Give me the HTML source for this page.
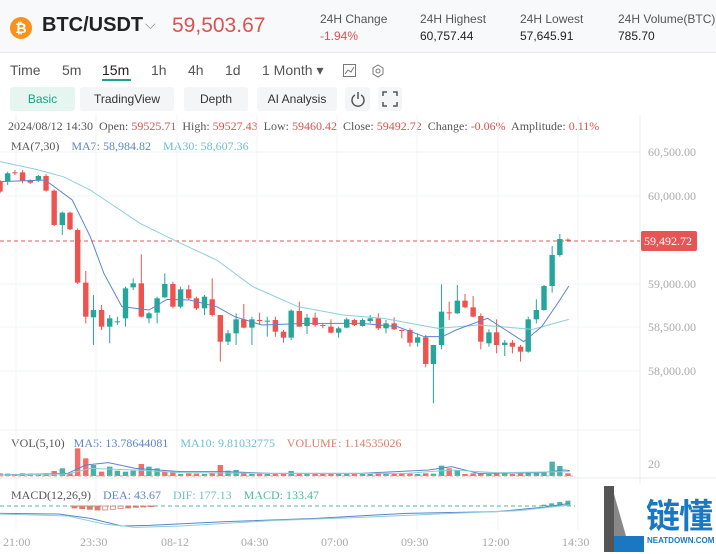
<!DOCTYPE html>
<html><head><meta charset="utf-8">
<style>
body{margin:0;width:716px;height:554px;overflow:hidden;background:#fff;font-family:"Liberation Sans",sans-serif;position:relative}
.a{position:absolute;white-space:nowrap}
.hdr{position:absolute;left:0;top:0;width:716px;height:52px;background:#f8f9fa;border-bottom:1px solid #e6e8eb}
.lbl{font-size:12px;color:#555}
.val{font-size:12px;color:#222}
.btn{position:absolute;top:87px;height:24px;line-height:24px;background:#f4f5f7;border-radius:3px;font-size:12px;color:#333;text-align:center}
.s{font-family:"Liberation Serif",serif;font-size:12px}
</style></head><body>
<div class="hdr"></div>
<svg class="a" style="left:10px;top:17px" width="22" height="22"><circle cx="11" cy="11" r="11" fill="#f7931a"/><text x="11" y="16" font-size="14" font-weight="bold" fill="#fff" text-anchor="middle" font-family="Liberation Sans">₿</text></svg>
<div class="a" style="left:42px;top:14px;font-size:20px;font-weight:bold;color:#222">BTC/USDT</div>
<div class="a" style="left:145px;top:16px;font-size:14px;color:#888">⌵</div>
<div class="a" style="left:172px;top:14px;font-size:21px;color:#d9534f">59,503.67</div>
<div class="a lbl" style="left:320px;top:12px">24H Change</div><div class="a" style="left:320px;top:29px;font-size:12px;color:#d9534f">-1.94%</div>
<div class="a lbl" style="left:420px;top:12px">24H Highest</div><div class="a val" style="left:420px;top:29px">60,757.44</div>
<div class="a lbl" style="left:520px;top:12px">24H Lowest</div><div class="a val" style="left:520px;top:29px">57,645.91</div>
<div class="a lbl" style="left:618px;top:12px">24H Volume(BTC)</div><div class="a val" style="left:618px;top:29px">785.70</div>
<div class="a" style="left:10px;top:62px;font-size:14px;color:#555">Time</div>
<div class="a" style="left:62px;top:62px;font-size:14px;color:#555">5m</div>
<div class="a" style="left:102px;top:62px;font-size:14px;color:#222">15m</div>
<div class="a" style="left:102px;top:79px;width:29px;height:2px;background:#1aa08a"></div>
<div class="a" style="left:151px;top:62px;font-size:14px;color:#555">1h</div>
<div class="a" style="left:188px;top:62px;font-size:14px;color:#555">4h</div>
<div class="a" style="left:225px;top:62px;font-size:14px;color:#555">1d</div>
<div class="a" style="left:262px;top:62px;font-size:14px;color:#555">1 Month ▾</div>
<svg class="a" style="left:343px;top:64px" width="44" height="14"><rect x="0.5" y="0.5" width="12" height="12" fill="none" stroke="#777"/><polyline points="2,10 5,6 8,8 11,3" fill="none" stroke="#777"/><polygon points="35,1 40,4 40,10 35,13 30,10 30,4" fill="none" stroke="#777"/><circle cx="35" cy="7" r="2" fill="none" stroke="#777"/></svg>
<div class="btn" style="left:10px;width:65px;background:#e5f6f1;color:#1a9f86">Basic</div>
<div class="btn" style="left:80px;width:94px">TradingView</div>
<div class="btn" style="left:184px;width:64px">Depth</div>
<div class="btn" style="left:257px;width:80px">AI Analysis</div>
<div class="btn" style="left:345px;width:25px"><svg width="16" height="16" style="margin-top:4px"><path d="M5 4 A6 6 0 1 0 11 4" fill="none" stroke="#555" stroke-width="1.5"/><line x1="8" y1="1" x2="8" y2="8" stroke="#555" stroke-width="1.5"/></svg></div>
<div class="btn" style="left:378px;width:24px"><svg width="16" height="16" style="margin-top:4px" fill="none" stroke="#555" stroke-width="1.5"><path d="M1 5V1H5M11 1H15V5M15 11V15H11M5 15H1V11"/></svg></div>
<div class="a s" style="left:8px;top:119px;color:#555">2024/08/12 14:30&nbsp; Open: <span style="color:#d9534f">59525.71</span>&nbsp; High: <span style="color:#d9534f">59527.43</span>&nbsp; Low: <span style="color:#d9534f">59460.42</span>&nbsp; Close: <span style="color:#d9534f">59492.72</span>&nbsp; Change: <span style="color:#d9534f">-0.06%</span>&nbsp; Amplitude: <span style="color:#d9534f">0.11%</span></div>
<div class="a s" style="left:11px;top:139px;color:#555">MA(7,30)&nbsp;&nbsp;&nbsp; <span style="color:#5b86c9">MA7: 58,984.82</span>&nbsp;&nbsp;&nbsp; <span style="color:#6cc0cc">MA30: 58,607.36</span></div>
<div class="a s" style="left:11px;top:436px;color:#555">VOL(5,10)&nbsp;&nbsp; <span style="color:#5b86c9">MA5: 13.78644081</span>&nbsp;&nbsp;&nbsp; <span style="color:#6cc0cc">MA10: 9.81032775</span>&nbsp;&nbsp;&nbsp; <span style="color:#e07a6a">VOLUME: 1.14535026</span></div>
<div class="a s" style="left:11px;top:488px;color:#555">MACD(12,26,9)&nbsp;&nbsp;&nbsp; <span style="color:#5b86c9">DEA: 43.67</span>&nbsp;&nbsp;&nbsp; <span style="color:#6cc0cc">DIF: 177.13</span>&nbsp;&nbsp;&nbsp; <span style="color:#4db8a0">MACD: 133.47</span></div>
<svg class="a" id="ch" style="left:0;top:0" width="716" height="554"></svg>
<div class="a s" style="left:648px;top:145px;color:#aaa">60,500.00</div>
<div class="a s" style="left:648px;top:189px;color:#aaa">60,000.00</div>
<div class="a s" style="left:648px;top:277px;color:#aaa">59,000.00</div>
<div class="a s" style="left:648px;top:320px;color:#aaa">58,500.00</div>
<div class="a s" style="left:648px;top:364px;color:#aaa">58,000.00</div>
<div class="a s" style="left:648px;top:457px;color:#aaa">20</div>
<div class="a" style="left:641px;top:231px;width:56px;height:20px;background:#e85454;border-radius:2px"></div>
<div class="a s" style="left:644px;top:234px;color:#fff">59,492.72</div>
<div class="a s" style="left:3px;top:535px;color:#aaa">21:00</div>
<div class="a s" style="left:80px;top:535px;color:#aaa">23:30</div>
<div class="a s" style="left:161px;top:535px;color:#aaa">08-12</div>
<div class="a s" style="left:241px;top:535px;color:#aaa">04:30</div>
<div class="a s" style="left:321px;top:535px;color:#aaa">07:00</div>
<div class="a s" style="left:401px;top:535px;color:#aaa">09:30</div>
<div class="a s" style="left:482px;top:535px;color:#aaa">12:00</div>
<div class="a s" style="left:562px;top:535px;color:#aaa">14:30</div>
<div class="a" style="left:600px;top:484px;width:116px;height:70px;background:#fff"></div>
<svg class="a" style="left:604px;top:486px" width="40" height="66"><polygon points="0,0 10,0 10,50 40,50 40,66 0,66" fill="#1a78c2"/><polygon points="10,8 22,50 10,50" fill="#888"/><polygon points="0,0 10,0 10,66 0,66" fill="#555"/></svg>
<div class="a" style="left:646px;top:489px;font-size:34px;font-weight:bold;color:#1a78c2;font-family:'Liberation Sans','Noto Sans CJK SC',sans-serif;letter-spacing:-1px">链懂</div>
<div class="a" style="left:647px;top:536px;font-size:8px;font-weight:bold;color:#1a78c2">NEATDOWN.COM</div>
<script>
var s=document.getElementById('ch'),h='',K=2.215;
function L(x1,y1,x2,y2,c,d,w){h+='<line x1="'+x1+'" y1="'+y1+'" x2="'+x2+'" y2="'+y2+'" stroke="'+c+'" stroke-width="'+(w||1)+'"'+(d?' stroke-dasharray="'+d+'"':'')+'/>';}
[16,96,177,257,337,417,498,578].forEach(function(x){L(x,115,x,530,'#f2f3f5');});
[152,196,284,327,371].forEach(function(y){L(0,y,640,y,'#f2f3f5');});
L(640,115,640,530,'#eceef0');L(0,478,716,478,'#e6e8eb');L(0,430,640,430,'#f0f0f0');
L(0,241,640,241,'#e85454','4,3');
var G='#26a69a',R='#ef5350';
var c=[[0,65,95,60,100],[17,65,40,35,75],[33,37,37,30,45],[50,37,62,30,70],[67,62,68,58,72],[85,62,48,45,66],[102,48,92,42,95],[120,92,195,88,198],[138,195,158,155,225],[155,158,208,155,210],[172,210,368,205,372],[190,368,470,333,490],[207,472,450,405,555],[225,450,500,435,510],[243,500,475,465,550],[260,486,484,470,495],[278,475,385,380,500],[295,382,370,355,390],[313,370,470,283,472],[330,475,460,455,490],[348,458,415,410,490],[365,412,372,340,415],[383,372,440,365,445],[400,440,388,380,445],[418,388,415,375,420],[435,415,445,410,450],[453,445,410,405,465],[470,418,465,355,470],[488,465,545,465,605],[505,545,520,510,555],[523,520,478,460,555],[540,478,503,432,505],[558,503,478,470,555],[575,480,482,458,495],[592,484,482,470,530],[610,480,515,470,530],[628,515,533,510,548],[645,533,452,448,540],[663,453,500,425,500],[680,498,473,462,522],[698,473,495,458,500],[715,495,497,490,505],[733,500,518,478,520],[750,518,505,500,533],[768,503,478,473,505],[785,480,495,476,498],[803,498,480,475,500],[820,483,475,465,490],[838,475,505,460,510],[855,505,490,480,520],[873,490,508,472,510],[890,510,512,508,535],[908,510,548,505,560],[925,548,532,520,560],[943,532,612,525,622],[960,612,555,555,730],[978,555,455,373,568],[995,457,459,425,480],[1013,460,422,375,462],[1030,422,442,402,445],[1048,442,470,408,472],[1065,468,545,460,568],[1083,550,517,508,560],[1100,517,555,478,580],[1118,555,548,540,588],[1135,548,560,540,580],[1153,560,575,555,605],[1170,575,478,470,578],[1188,478,450,418,490],[1205,450,378,375,452],[1223,378,285,258,398],[1240,285,237,222,290],[1258,239,241,235,245]];
function Y(v){return 160+v/3;}
c.forEach(function(k){var x=k[0]/K,o=Y(k[1]),cl=Y(k[2]),col=cl<=o?G:R;if(k[1]==k[2])col=R;
L(x,Y(k[3]),x,Y(k[4]),col);var t=Math.min(o,cl),bh=Math.max(Math.abs(o-cl),1);
h+='<rect x="'+(x-2.7)+'" y="'+t+'" width="5.4" height="'+bh+'" fill="'+col+'"/>';});
function P(a,col,f){h+='<polyline fill="none" stroke="'+col+'" stroke-width="1" points="'+a.map(function(p){return (p[0]/K)+','+f(p[1]);}).join(' ')+'"/>';}
P([[0,5],[80,28],[140,50],[200,90],[310,190],[400,250],[480,300],[560,380],[660,440],[760,465],[850,475],[970,505],[1060,495],[1180,508],[1260,478]],'#8ccfd9',Y);
P([[0,65],[100,60],[160,120],[200,230],[230,340],[270,440],[330,450],[370,418],[420,420],[480,440],[520,470],[580,495],[680,490],[800,490],[880,500],[940,530],[980,530],[1010,510],[1080,475],[1120,510],[1160,545],[1200,500],[1240,420],[1260,378]],'#5b86c9',Y);
function V(v){return 420+v/3;}
var vb={85:[163,G],120:[153,R],138:[145,G],172:[85,R],190:[115,R],207:[135,G],225:[155,R],243:[140,G],260:[152,G],278:[155,G],295:[152,G],313:[132,R],330:[140,G],348:[145,G],365:[155,R],383:[155,R],488:[135,R],505:[152,G],523:[150,G],540:[158,R],645:[153,G],958:[123,G],978:[137,G],995:[145,R],1013:[150,G],1223:[125,G],1240:[138,G],1205:[157,G],1188:[157,G],1170:[157,G]};
c.forEach(function(k,i){var x=k[0]/K,b=vb[k[0]],col=k[2]<k[1]?G:R,y=b?b[0]:160+(i%3);if(b)col=b[1];
h+='<rect x="'+(x-2.7)+'" y="'+V(y)+'" width="5.4" height="'+(V(168)-V(y))+'" fill="'+col+'" opacity="0.85"/>';});
P([[0,165],[150,160],[190,135],[240,128],[300,145],[400,155],[500,155],[600,160],[800,160],[950,150],[1000,140],[1060,160],[1200,158],[1250,150],[1262,152]],'#5b86c9',V);
P([[0,165],[150,162],[200,145],[300,150],[400,158],[600,160],[900,160],[1000,150],[1100,158],[1262,155]],'#8ccfd9',V);
L(0,V(168),575,V(168),'#e6a090','3,3');
function M(v){return 420+v/3;}
L(0,M(258),575,M(258),'#4db8a0','4,3');
[[165,264],[182,266],[199,268],[216,270],[233,270,1],[250,268,1],[267,266,1],[284,264],[301,262],[318,261],[335,260]].forEach(function(p){
h+='<rect x="'+(p[0]/K-2.5)+'" y="'+M(258)+'" width="5" height="'+(M(p[1])-M(258))+'" fill="'+(p[2]?'none':'#e07a6a')+'" stroke="#e07a6a" stroke-width="0.8"/>';});
[[1205,254],[1222,250],[1240,246],[1258,242]].forEach(function(p){h+='<rect x="'+(p[0]/K-2.5)+'" y="'+M(p[1])+'" width="5" height="'+(M(258)-M(p[1]))+'" fill="#4db8a0"/>';});
P([[0,280],[130,282],[200,295],[270,318],[330,316],[500,305],[700,295],[900,280],[1100,275],[1200,262],[1262,250]],'#5b86c9',M);
P([[0,282],[150,288],[230,312],[300,322],[400,318],[600,302],[800,292],[1000,280],[1150,272],[1262,255]],'#8ccfd9',M);
s.innerHTML=h;
</script>
</body></html>
